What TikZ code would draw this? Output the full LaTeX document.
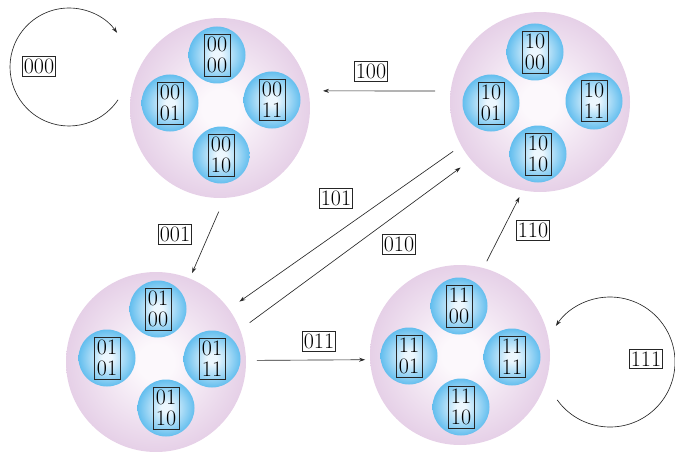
\documentclass[tikz,border=0pt]{standalone}
\usepackage{fontspec}
\usetikzlibrary{arrows.meta}

\definecolor{ballin}{RGB}{252,248,252}
\definecolor{ballmid}{RGB}{224,198,226}
\definecolor{ballout}{RGB}{198,158,204}
\definecolor{cellin}{RGB}{236,247,254}
\definecolor{cellmid}{RGB}{80,182,236}
\definecolor{cellout}{RGB}{18,148,214}
\definecolor{wire}{RGB}{40,40,40}

\pgfdeclareradialshading{ballshade}{\pgfpoint{0bp}{0bp}}{%
  color(0bp)=(ballin); color(5bp)=(ballin); color(30bp)=(ballmid); color(50bp)=(ballout)}
\pgfdeclareradialshading{cellshade}{\pgfpoint{0bp}{0bp}}{%
  color(0bp)=(cellin); color(4bp)=(cellin); color(28bp)=(cellmid); color(50bp)=(cellout)}

\begin{document}
\begin{tikzpicture}[x=1pt,y=-1pt,
  state/.style={circle,minimum size=180pt,inner sep=0pt,outer sep=0pt,shading=ballshade},
  cell/.style={circle,minimum size=57pt,inner sep=0pt,outer sep=0pt,shading=cellshade},
  bits/.style={draw=black!85,line width=0.6pt,align=center,inner xsep=3pt,inner ysep=3pt,
    font=\fontsize{22}{21}\selectfont},
  tag/.style={draw=black!85,line width=0.6pt,inner xsep=1.5pt,inner ysep=2.5pt,
    font=\fontsize{22}{21}\selectfont},
  arr/.style={draw=wire,line width=0.65pt,-{Stealth[length=6pt,width=4pt]}}]

\useasboundingbox (0,0) rectangle (675,452);

% the four states
\node[state] (A) at (220,108) {};
\node[state] (B) at (540,102) {};
\node[state] (C) at (156,362) {};
\node[state] (D) at (460,355) {};

% cells of state 00
\node[cell] (A1) at (217,55) {};  \node[bits] (A1t) at (A1) {00\\00};
\node[cell] (A2) at (170,103) {}; \node[bits] (A2t) at (A2) {00\\01};
\node[cell] (A3) at (272,100) {}; \node[bits] (A3t) at (A3) {00\\11};
\node[cell] (A4) at (221,155) {}; \node[bits] (A4t) at (A4) {00\\10};

% cells of state 10
\node[cell] (B1) at (535,52) {};  \node[bits] (B1t) at (B1) {10\\00};
\node[cell] (B2) at (491,103) {}; \node[bits] (B2t) at (B2) {10\\01};
\node[cell] (B3) at (594,101) {}; \node[bits] (B3t) at (B3) {10\\11};
\node[cell] (B4) at (538,154) {}; \node[bits] (B4t) at (B4) {10\\10};

% cells of state 01
\node[cell] (C1) at (158,309) {}; \node[bits] (C1t) at (C1) {01\\00};
\node[cell] (C2) at (107,358) {}; \node[bits] (C2t) at (C2) {01\\01};
\node[cell] (C3) at (212,359) {}; \node[bits] (C3t) at (C3) {01\\11};
\node[cell] (C4) at (166,408) {}; \node[bits] (C4t) at (C4) {01\\10};

% cells of state 11
\node[cell] (D1) at (459,306) {}; \node[bits] (D1t) at (D1) {11\\00};
\node[cell] (D2) at (409,356) {}; \node[bits] (D2t) at (D2) {11\\01};
\node[cell] (D3) at (512,357) {}; \node[bits] (D3t) at (D3) {11\\11};
\node[cell] (D4) at (461,407) {}; \node[bits] (D4t) at (D4) {11\\10};

% transitions
\draw[arr,shorten <=15.5pt,shorten >=14.6pt] (B.173) -- (A.11);
\draw[arr,shorten <=15pt,shorten >=6pt] (A.-87.5) -- (C.68);
\draw[arr,shorten <=10pt,shorten >=13pt] (B.209) -- (C.36);
\draw[arr,shorten <=12pt,shorten >=13pt] (C.21) -- (B.220);
\draw[arr,shorten <=11pt,shorten >=5pt] (C.1) -- (D.183);
\draw[arr,shorten <=7.7pt,shorten >=7.5pt] (D.75.5) -- (B.-101);

% self loops
\coordinate (loopA) at (69,67);
\coordinate (loopD) at (610,362);
\draw[arr] ([shift={(-33.8:59pt)}]loopA) arc[start angle=-33.8,end angle=-324.6,radius=59pt];
\draw[arr] ([shift={(215.6:65pt)}]loopD) arc[start angle=215.6,end angle=506.3,radius=65pt];

% input labels
\node[tag] (l000) at (39,66)   {000};
\node[tag] (l100) at (371,71)  {100};
\node[tag] (l101) at (336,198) {101};
\node[tag] (l010) at (399,244) {010};
\node[tag] (l001) at (175,234) {001};
\node[tag] (l110) at (533,230) {110};
\node[tag] (l011) at (319,341) {011};
\node[tag] (l111) at (646,359) {111};
\end{tikzpicture}
\end{document}
